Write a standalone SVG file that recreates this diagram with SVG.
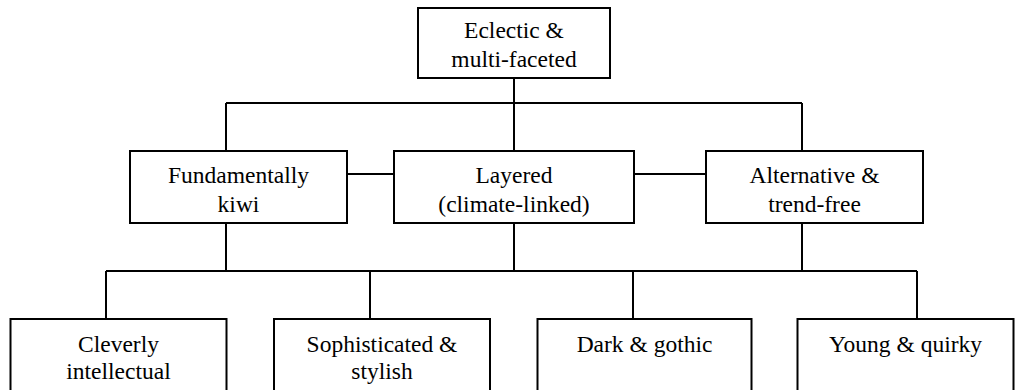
<svg xmlns="http://www.w3.org/2000/svg" width="1029" height="390" viewBox="0 0 1029 390">
<style>
.box{fill:#fff;stroke:#000;stroke-width:2}
.ln{fill:none;stroke:#000;stroke-width:2}
text{font-family:"Liberation Serif",Tinos,"Times New Roman",serif;font-size:23.5px;fill:#000;text-anchor:middle}
</style>
<rect width="1029" height="390" fill="#fff"/>
<g id="connectors">
<path class="ln" d="M514 78V103M226 103H802M226 103V151M514 103V151M802 103V151"/>
<path class="ln" d="M347 174H394M634 174H706"/>
<path class="ln" d="M226 223V271M514 223V271M802 223V271M106 271H917M106 271V319M370 271V319M633 271V319M917 271V319"/>
</g>
<g id="nodes">
<g id="n-eclectic"><rect class="box" x="418" y="8" width="192" height="70"/><text x="514" y="37.5">Eclectic &amp;</text><text x="514" y="66.5">multi-faceted</text></g>
<g id="n-kiwi"><rect class="box" x="130" y="151" width="217" height="72"/><text x="238.5" y="183">Fundamentally</text><text x="238.5" y="211.5">kiwi</text></g>
<g id="n-layered"><rect class="box" x="394" y="151" width="240" height="72"/><text x="514" y="183">Layered</text><text x="514" y="211.5">(climate-linked)</text></g>
<g id="n-alternative"><rect class="box" x="706" y="151" width="217" height="72"/><text x="814.5" y="183">Alternative &amp;</text><text x="814.5" y="211.5">trend-free</text></g>
<g id="n-clever"><rect class="box" x="10.5" y="319" width="216" height="90"/><text x="118.5" y="351.7">Cleverly</text><text x="118.5" y="378.5">intellectual</text></g>
<g id="n-soph"><rect class="box" x="274" y="319" width="216" height="90"/><text x="382" y="351.7">Sophisticated &amp;</text><text x="382" y="378.5">stylish</text></g>
<g id="n-dark"><rect class="box" x="537.5" y="319" width="214" height="90"/><text x="644.5" y="351.7">Dark &amp; gothic</text></g>
<g id="n-young"><rect class="box" x="797.5" y="319" width="216" height="90"/><text x="905.5" y="351.7">Young &amp; quirky</text></g>
</g>
</svg>
